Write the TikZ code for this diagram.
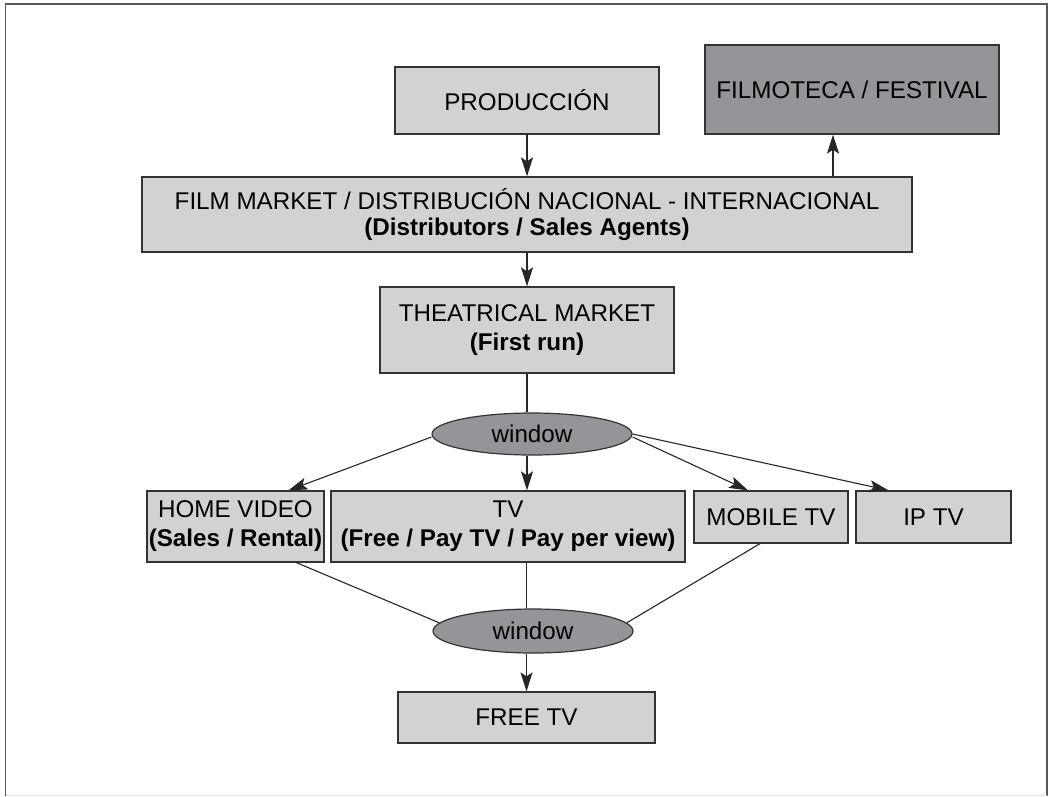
\documentclass[tikz,border=0pt]{standalone}
\usepackage{fontspec}
\setmainfont{Liberation Sans}
\usetikzlibrary{shapes.geometric,arrows.meta}
\definecolor{boxlight}{HTML}{D1D2D4}
\definecolor{boxdark}{HTML}{939598}
\definecolor{edgegray}{HTML}{333333}
\begin{document}
\begin{tikzpicture}[x=1pt,y=-1pt,
 box/.style={draw=edgegray, line width=1.3pt, fill=boxlight, rectangle, inner sep=0pt, align=center, font=\fontsize{24.2}{29}\selectfont},
 win/.style={draw=edgegray, line width=1.2pt, fill=boxdark, ellipse, inner sep=0pt, font=\fontsize{24.2}{29}\selectfont},
 conn/.style={draw=black!85, line width=1.1pt},
 arr/.style={conn, -{Stealth[length=19pt,width=12pt,inset=4pt]}}]
\useasboundingbox (0,0) rectangle (1048,796);
\draw[draw=black!65, line width=1.5pt] (5.5,796) -- (5.5,4) -- (1047,4) -- (1047,796);
\draw[black!10, line width=1pt] (5.5,795) -- (1047,795);

\node[box, minimum width=264pt, minimum height=67pt] (prod) at (527,100.5) {PRODUCCIÓN};
\node[box, fill=boxdark, minimum width=294pt, minimum height=89pt] (film) at (852,89.5) {FILMOTECA / FESTIVAL};
\node[box, minimum width=770pt, minimum height=75pt, font=\fontsize{24.2}{25.5}\selectfont] (fm) at (527,214.5) {FILM MARKET / DISTRIBUCIÓN NACIONAL - INTERNACIONAL\\\textbf{(Distributors / Sales Agents)}};
\node[box, minimum width=294pt, minimum height=86pt] (th) at (527,330) {THEATRICAL MARKET\\\textbf{(First run)}};
\node[win, minimum width=200pt, minimum height=42pt] (w1) at (532,434) {window};
\node[box, minimum width=177pt, minimum height=71pt] (hv) at (235.5,526.5) {HOME VIDEO\\\textbf{(Sales / Rental)}};
\node[box, minimum width=354pt, minimum height=71pt] (tv) at (508,526.5) {TV\\\textbf{(Free / Pay TV / Pay per view)}};
\node[box, minimum width=154pt, minimum height=52pt] (mob) at (771,517) {MOBILE TV};
\node[box, minimum width=155pt, minimum height=52pt] (ip) at (933.5,517) {IP TV};
\node[win, minimum width=200pt, minimum height=44pt] (w2) at (533,631) {window};
\node[box, minimum width=257pt, minimum height=51pt] (ft) at (526.5,717.5) {FREE TV};

\coordinate (fx) at ([xshift=-19pt]film.south);
\draw[arr] (prod) -- (fm);
\draw[arr] (fm.north -| fx) -- (fx);
\draw[arr] (fm) -- (th);
\draw[conn] (th.south) -- (th.south |- w1.north);
\draw[arr] (th.south |- w1.south) -- (th.south |- tv.north);
\draw[arr] ([yshift=-3pt]w1.west) -- ([xshift=53pt]hv.north);
\draw[arr] ([yshift=-3pt]w1.east) -- ([xshift=-23pt]mob.north);
\draw[arr] (w1.east) -- ([xshift=-45pt]ip.north);
\draw[conn] ([xshift=61pt]hv.south) -- (w2.175);
\draw[conn] (tv.south -| ft.north) -- (w2.north -| ft.north);
\draw[conn] ([xshift=-11pt]mob.south) -- (w2.5);
\draw[arr] (w2.south -| ft.north) -- (ft.north);
\end{tikzpicture}
\end{document}
